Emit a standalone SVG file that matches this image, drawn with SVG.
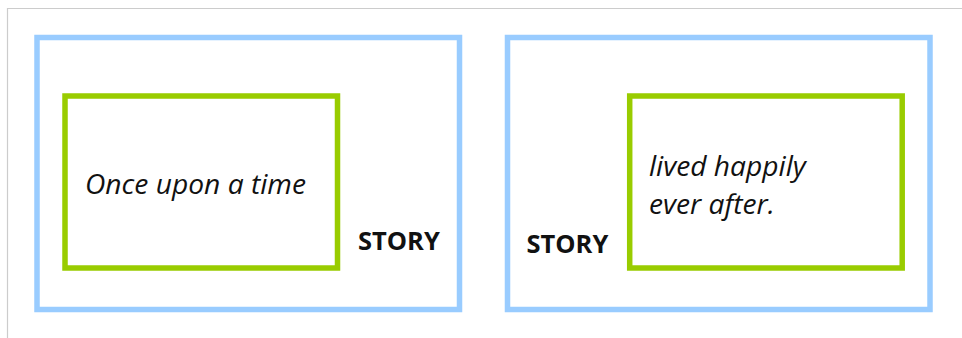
<svg xmlns="http://www.w3.org/2000/svg" width="962" height="338" viewBox="0 0 962 338">
<style>
.frame{fill:none;stroke:#cccccc;stroke-width:1.2}
.outer{fill:none;stroke:#99ccff;stroke-width:5.5}
.inner{fill:none;stroke:#99cc00;stroke-width:5.5}
.txt{font-family:"Open Sans","DejaVu Sans",sans-serif;font-style:italic;font-size:28.2px;fill:#111111}
.lbl{font-family:"Open Sans","DejaVu Sans",sans-serif;font-weight:bold;font-size:25.5px;fill:#111111}
</style>
<rect width="962" height="338" fill="#ffffff"/>
<path class="frame" d="M7.5,338 V8.5 H962"/>
<g id="story-left">
<rect class="outer" x="37" y="37.5" width="422.5" height="272"/>
<text class="lbl" x="358" y="250">STORY</text>
</g>
<g id="beginning">
<rect class="inner" x="65" y="96" width="272.5" height="172"/>
<text class="txt" x="85" y="193.5">Once upon a time</text>
</g>
<g id="story-right">
<rect class="outer" x="507.5" y="37.5" width="422.5" height="272"/>
<text class="lbl" x="526.5" y="253">STORY</text>
</g>
<g id="ending">
<rect class="inner" x="629.7" y="96" width="272.5" height="172"/>
<text class="txt" x="649"><tspan x="649" y="175.5">lived happily</tspan><tspan x="649" y="213.5">ever after.</tspan></text>
</g>
<g id="connectors"/>
</svg>
